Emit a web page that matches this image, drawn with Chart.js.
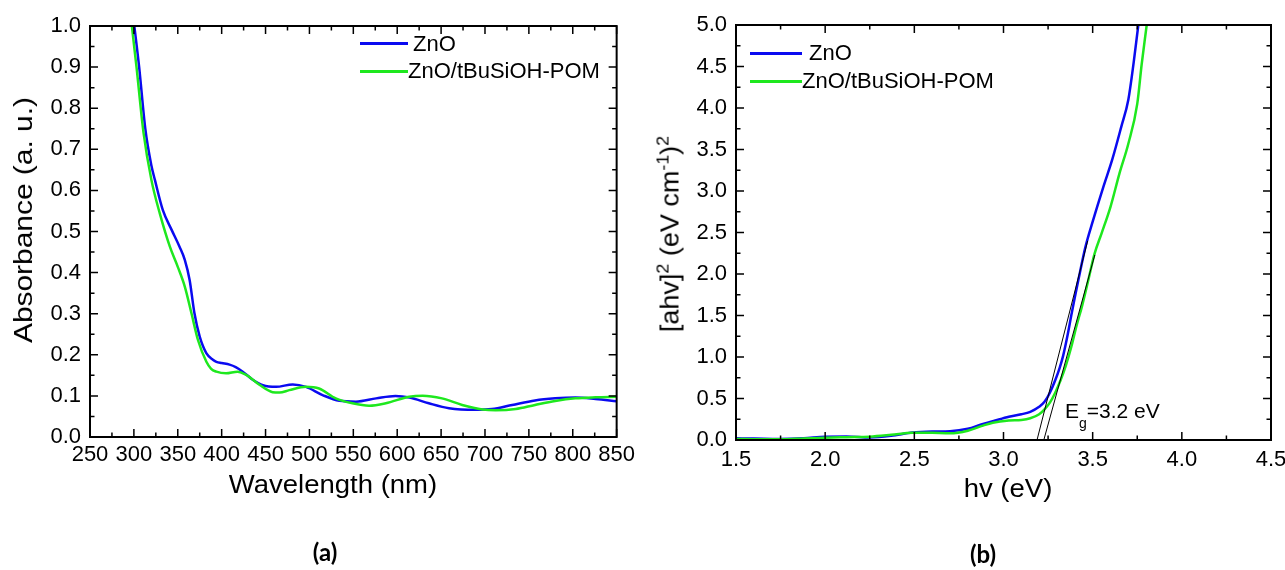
<!DOCTYPE html>
<html>
<head>
<meta charset="utf-8">
<script src="https://cdn.jsdelivr.net/npm/chart.js@4.4.1/dist/chart.umd.min.js"></script>
<style>
html,body{margin:0;padding:0;background:#fff;overflow:hidden;width:1285px;height:570px;}
#wrap{position:relative;width:1285px;height:570px;overflow:hidden;font-family:"Liberation Sans",Arial,sans-serif;color:#000;}
canvas{position:absolute;top:0;}
#cA{left:0;}
#cB{left:640px;}
.t{position:absolute;white-space:nowrap;line-height:1;}
.xt{font-size:25px;transform:translateX(-50%) scaleX(1.1);}
.yt{transform:translate(-50%,-50%) rotate(-90deg);}
.yt sup{font-size:0.66em;vertical-align:0;position:relative;top:-0.6em;line-height:0;}
.lab{font-family:Lato,"Open Sans",sans-serif;font-weight:700;font-size:24px;transform:translate(-50%,-50%);}
.leg{font-size:22px;}
.legline{position:absolute;height:3px;}
.eg{font-size:21px;}
.eg .sub{font-size:14px;position:relative;top:10px;}
</style>
</head>
<body>
<div id="wrap">
  <canvas id="cA" width="640" height="570"></canvas>
  <canvas id="cB" width="665" height="570"></canvas>

  <div class="t yt" style="left:23px;top:220px;font-size:26px;"><span style="display:inline-block;transform:scaleX(1.15);">Absorbance (a. u.)</span></div>
  <div class="t xt" style="left:333px;top:472px;">Wavelength (nm)</div>

  <div class="t yt" style="left:670px;top:234px;font-size:25px;"><span style="display:inline-block;transform:scaleX(1.08);">[ahv]<sup>2</sup> (eV cm<sup>-1</sup>)<sup>2</sup></span></div>
  <div class="t xt" style="left:1008px;top:476px;">hv (eV)</div>

  <div class="t eg" style="left:1065px;top:400px;">E<span class="sub">g</span>=3.2 eV</div>

  <div class="t lab" style="left:325px;top:552px;">(a)</div>
  <div class="t lab" style="left:983px;top:554px;">(b)</div>

  <div id="legA"></div>
  <div id="legB"></div>
</div>
<script>
// ---------- Data: panel (a) UV-Vis absorbance ----------
const seriesNames = ['ZnO', 'ZnO/tBuSiOH-POM'];

const wavelengthZnO = [298, 300.5, 306, 313, 320, 324, 333, 343, 352, 358, 363.5, 369, 375, 382.5, 390, 394, 400, 409, 416, 424, 435, 447, 462, 481, 496, 515, 534, 553, 576, 598, 614, 636, 659, 689, 708, 731, 757, 780, 803, 826, 850];
const absorbanceZnO = [1.045, 1.00, 0.90, 0.75, 0.66, 0.625, 0.552, 0.504, 0.463, 0.431, 0.382, 0.301, 0.244, 0.204, 0.188, 0.183, 0.180, 0.176, 0.170, 0.159, 0.140, 0.126, 0.122, 0.128, 0.122, 0.102, 0.088, 0.086, 0.094, 0.0998, 0.096, 0.082, 0.070, 0.066, 0.068, 0.078, 0.089, 0.094, 0.096, 0.0925, 0.087];

const wavelengthPOM = [295.5, 297.7, 303, 311, 320, 329.5, 341, 350, 358, 365.6, 373, 382.6, 388, 394, 405, 418, 428, 443, 458, 466, 477, 496, 511, 530, 549, 568, 587, 613.6, 629, 651, 674, 697, 712, 735, 757, 780, 803, 826, 850];
const absorbancePOM = [1.045, 1.00, 0.90, 0.74, 0.625, 0.544, 0.463, 0.414, 0.366, 0.301, 0.236, 0.183, 0.166, 0.159, 0.155, 0.159, 0.151, 0.127, 0.109, 0.108, 0.114, 0.122, 0.118, 0.094, 0.082, 0.076, 0.082, 0.098, 0.1005, 0.094, 0.078, 0.067, 0.065, 0.068, 0.078, 0.0876, 0.094, 0.0966, 0.098];

const xTicksA = [250, 300, 350, 400, 450, 500, 550, 600, 650, 700, 750, 800, 850];
const yTicksA = [0, 0.1, 0.2, 0.3, 0.4, 0.5, 0.6, 0.7, 0.8, 0.9, 1.0];

// ---------- Data: panel (b) Tauc plot ----------
const hvZnO = [1.50, 1.60, 1.74, 1.88, 2.00, 2.12, 2.25, 2.37, 2.49, 2.60, 2.70, 2.80, 2.88, 2.94, 3.03, 3.10, 3.15, 3.20, 3.23, 3.26, 3.29, 3.315, 3.335, 3.36, 3.38, 3.40, 3.42, 3.46, 3.50, 3.56, 3.61, 3.66, 3.70, 3.73, 3.756, 3.766];
const taucZnO = [0.02, 0.018, 0.012, 0.02, 0.04, 0.042, 0.03, 0.05, 0.09, 0.102, 0.106, 0.135, 0.19, 0.225, 0.28, 0.31, 0.34, 0.40, 0.46, 0.57, 0.72, 0.87, 1.02, 1.27, 1.50, 1.72, 1.93, 2.33, 2.63, 3.05, 3.38, 3.77, 4.10, 4.55, 5.0, 5.16];

const hvPOM = [1.50, 1.60, 1.75, 1.88, 2.00, 2.12, 2.25, 2.37, 2.49, 2.60, 2.70, 2.80, 2.88, 2.94, 3.03, 3.10, 3.15, 3.20, 3.23, 3.26, 3.29, 3.32, 3.35, 3.38, 3.41, 3.44, 3.476, 3.51, 3.55, 3.60, 3.65, 3.70, 3.75, 3.775, 3.803, 3.812];
const taucPOM = [0.012, 0.01, 0.008, 0.018, 0.028, 0.034, 0.04, 0.062, 0.088, 0.086, 0.08, 0.112, 0.17, 0.208, 0.235, 0.242, 0.262, 0.31, 0.37, 0.45, 0.57, 0.72, 0.90, 1.12, 1.38, 1.61, 1.93, 2.24, 2.49, 2.81, 3.21, 3.57, 4.05, 4.53, 5.0, 5.16];

const tangentAx = [3.188, 3.472];
const tangentAy = [0, 2.40];
const tangentBx = [3.226, 3.512];
const tangentBy = [0, 2.23];

const xTicksB = [1.5, 2.0, 2.5, 3.0, 3.5, 4.0, 4.5];
const yTicksB = [0, 0.5, 1.0, 1.5, 2.0, 2.5, 3.0, 3.5, 4.0, 4.5, 5.0];

// ---------- Styling ----------
const BLUE = '#0a0af0';
const GREEN = '#1ee81e';
const tickFont = {family: '"Liberation Sans", Arial, sans-serif', size: 22};

function pts(xs, ys) { return xs.map((x, i) => ({x: x, y: ys[i]})); }

const frameTicks = {
  id: 'frameTicks',
  afterDraw(chart) {
    const ctx = chart.ctx, a = chart.chartArea;
    const x = chart.scales.x, y = chart.scales.y;
    const major = 8, minor = 4.5;
    ctx.save();
    ctx.strokeStyle = '#000';
    ctx.lineWidth = 1.5;
    ctx.beginPath();
    const xv = x.ticks.map(t => t.value);
    xv.forEach((v, i) => {
      const px = x.getPixelForValue(v);
      ctx.moveTo(px, a.bottom); ctx.lineTo(px, a.bottom - major);
      ctx.moveTo(px, a.top); ctx.lineTo(px, a.top + major);
      if (i < xv.length - 1) {
        const pm = x.getPixelForValue((v + xv[i + 1]) / 2);
        ctx.moveTo(pm, a.bottom); ctx.lineTo(pm, a.bottom - minor);
        ctx.moveTo(pm, a.top); ctx.lineTo(pm, a.top + minor);
      }
    });
    const yv = y.ticks.map(t => t.value);
    yv.forEach((v, i) => {
      const py = y.getPixelForValue(v);
      ctx.moveTo(a.left, py); ctx.lineTo(a.left + major, py);
      ctx.moveTo(a.right, py); ctx.lineTo(a.right - major, py);
      if (i < yv.length - 1) {
        const pm = y.getPixelForValue((v + yv[i + 1]) / 2);
        ctx.moveTo(a.left, pm); ctx.lineTo(a.left + minor, pm);
        ctx.moveTo(a.right, pm); ctx.lineTo(a.right - minor, pm);
      }
    });
    ctx.stroke();
    ctx.lineWidth = 2;
    ctx.strokeRect(a.left, a.top, a.right - a.left, a.bottom - a.top);
    ctx.restore();
  }
};

function curve(label, xs, ys, color, order) {
  return {
    label: label, data: pts(xs, ys), showLine: true, borderColor: color, backgroundColor: color,
    borderWidth: 2.5, pointRadius: 0, cubicInterpolationMode: 'monotone', clip: 0, order: order
  };
}
function tangent(xs, ys) {
  return {
    label: '', data: pts(xs, ys), showLine: true, borderColor: '#000', borderWidth: 1,
    pointRadius: 0, tension: 0, clip: 0, order: -1
  };
}

function makeOptions(cfg) {
  return {
    responsive: false, animation: false, events: [],
    layout: {padding: cfg.padding},
    plugins: {legend: {display: false}, tooltip: {enabled: false}},
    scales: {
      x: {
        type: 'linear', min: cfg.xmin, max: cfg.xmax,
        afterBuildTicks: s => { s.ticks = cfg.xTicks.map(v => ({value: v})); },
        afterFit: s => { s.height = cfg.xHeight; },
        ticks: {font: tickFont, color: '#000', padding: cfg.xPad, maxRotation: 0, autoSkip: false,
                callback: cfg.xFmt},
        grid: {display: false, drawTicks: false},
        border: {display: false}
      },
      y: {
        type: 'linear', min: cfg.ymin, max: cfg.ymax,
        afterBuildTicks: s => { s.ticks = cfg.yTicks.map(v => ({value: v})); },
        afterFit: s => { s.width = cfg.yWidth; },
        ticks: {font: tickFont, color: '#000', padding: 9, autoSkip: false,
                callback: v => Number(v).toFixed(1)},
        grid: {display: false, drawTicks: false},
        border: {display: false}
      }
    }
  };
}

const chartA = new Chart(document.getElementById('cA'), {
  type: 'scatter',
  data: {datasets: [
    curve(seriesNames[0], wavelengthZnO, absorbanceZnO, BLUE, 1),
    curve(seriesNames[1], wavelengthPOM, absorbancePOM, GREEN, 0)
  ]},
  options: makeOptions({padding: {top: 26, right: 22, left: 0, bottom: 0}, xmin: 250, xmax: 850, ymin: 0, ymax: 1,
    xTicks: xTicksA, yTicks: yTicksA, xHeight: 133, yWidth: 90, xPad: 5, xFmt: v => String(v)}),
  plugins: [frameTicks]
});

const chartB = new Chart(document.getElementById('cB'), {
  type: 'scatter',
  data: {datasets: [
    curve(seriesNames[0], hvZnO, taucZnO, BLUE, 1),
    curve(seriesNames[1], hvPOM, taucPOM, GREEN, 0),
    tangent(tangentAx, tangentAy),
    tangent(tangentBx, tangentBy)
  ]},
  options: makeOptions({padding: {top: 25, right: 34, left: 0, bottom: 0}, xmin: 1.5, xmax: 4.5, ymin: 0, ymax: 5,
    xTicks: xTicksB, yTicks: yTicksB, xHeight: 130, yWidth: 96, xPad: 7, xFmt: v => Number(v).toFixed(1)}),
  plugins: [frameTicks]
});

// ---------- HTML legends built from dataset labels/colours ----------
function buildLegend(chart, holder, layout) {
  const el = document.getElementById(holder);
  chart.data.datasets.filter(d => d.label).forEach((d, i) => {
    const L = layout[i];
    const line = document.createElement('div');
    line.className = 'legline';
    line.style.left = L.x0 + 'px';
    line.style.width = (L.x1 - L.x0) + 'px';
    line.style.top = (L.y - 1.5) + 'px';
    line.style.background = d.borderColor;
    el.appendChild(line);
    const txt = document.createElement('div');
    txt.className = 't leg';
    txt.textContent = d.label;
    txt.style.left = L.tx + 'px';
    txt.style.top = (L.y - 10.7) + 'px';
    el.appendChild(txt);
  });
}
buildLegend(chartA, 'legA', [{x0: 360, x1: 408, y: 43.5, tx: 413}, {x0: 360, x1: 408, y: 71, tx: 408}]);
buildLegend(chartB, 'legB', [{x0: 750, x1: 802, y: 53, tx: 809}, {x0: 750, x1: 802, y: 81, tx: 802}]);
</script>
</body>
</html>
